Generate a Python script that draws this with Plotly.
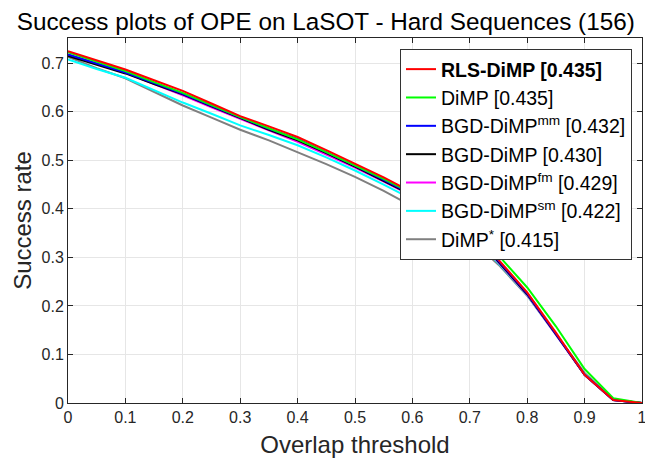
import plotly.graph_objects as go

thresholds = [round(i * 0.05, 2) for i in range(21)]

names = [
    "<b>RLS-DiMP [0.435]</b>",
    "DiMP [0.435]",
    "BGD-DiMP<sup>mm</sup> [0.432]",
    "BGD-DiMP [0.430]",
    "BGD-DiMP<sup>fm</sup> [0.429]",
    "BGD-DiMP<sup>sm</sup> [0.422]",
    "DiMP<sup>*</sup> [0.415]",
]
colors = ["#ff0000", "#00ff00", "#0000ff", "#000000", "#ff00ff", "#00ffff", "#808080"]

rls_dimp = [0.725, 0.706, 0.687, 0.665, 0.643, 0.617, 0.591, 0.570, 0.548, 0.521, 0.493,
            0.465, 0.434, 0.402, 0.362, 0.296, 0.228, 0.145, 0.058, 0.006, 0.0]
dimp = [0.723, 0.703, 0.684, 0.661, 0.639, 0.614, 0.589, 0.566, 0.543, 0.517, 0.490,
        0.462, 0.432, 0.401, 0.363, 0.304, 0.238, 0.158, 0.070, 0.010, 0.0]
bgd_mm = [0.718, 0.700, 0.681, 0.659, 0.637, 0.612, 0.588, 0.565, 0.544, 0.517, 0.489,
          0.460, 0.430, 0.398, 0.358, 0.293, 0.226, 0.143, 0.058, 0.006, 0.0]
bgd = [0.715, 0.697, 0.679, 0.657, 0.636, 0.611, 0.587, 0.563, 0.541, 0.515, 0.487,
       0.458, 0.428, 0.396, 0.356, 0.291, 0.224, 0.142, 0.058, 0.006, 0.0]
bgd_fm = [0.718, 0.699, 0.681, 0.657, 0.634, 0.609, 0.585, 0.561, 0.538, 0.512, 0.485,
          0.456, 0.426, 0.394, 0.354, 0.290, 0.223, 0.141, 0.058, 0.006, 0.0]
bgd_sm = [0.708, 0.688, 0.670, 0.644, 0.619, 0.596, 0.572, 0.552, 0.531, 0.506, 0.479,
          0.450, 0.420, 0.389, 0.350, 0.288, 0.222, 0.141, 0.059, 0.006, 0.0]
dimp_star = [0.713, 0.690, 0.669, 0.641, 0.613, 0.588, 0.563, 0.541, 0.517, 0.492, 0.466,
             0.437, 0.405, 0.375, 0.338, 0.285, 0.221, 0.142, 0.062, 0.007, 0.0]

series = [rls_dimp, dimp, bgd_mm, bgd, bgd_fm, bgd_sm, dimp_star]

x_ticks = [round(i * 0.1, 1) for i in range(11)]
x_ticktext = ["0", "0.1", "0.2", "0.3", "0.4", "0.5", "0.6", "0.7", "0.8", "0.9", "1"]
y_ticks = [round(i * 0.1, 1) for i in range(8)]
y_ticktext = ["0", "0.1", "0.2", "0.3", "0.4", "0.5", "0.6", "0.7"]

fig = go.Figure()
for name, col, vals in reversed(list(zip(names, colors, series))):
    fig.add_trace(go.Scatter(x=thresholds, y=vals, mode="lines", name=name,
                             line=dict(color=col, width=2)))

font = "Liberation Sans, Arial, sans-serif"
fig.update_layout(
    width=645, height=458,
    margin=dict(l=68, r=3, t=38, b=55, autoexpand=False),
    paper_bgcolor="white", plot_bgcolor="white",
    font=dict(family=font, color="#262626"),
    title=dict(text="Success plots of OPE on LaSOT - Hard Sequences (156)",
               x=0.505, xanchor="center", y=0.954, yanchor="middle",
               font=dict(size=24.3, color="#000000")),
    legend=dict(x=0.9826, xanchor="right", y=0.970, yanchor="top",
                traceorder="reversed", bgcolor="white",
                bordercolor="#333333", borderwidth=1,
                font=dict(size=19.5, color="#000000"), itemwidth=30),
    showlegend=True,
)
fig.update_xaxes(range=[0, 1], tickvals=x_ticks, ticktext=x_ticktext,
                 showline=True, linecolor="#262626", linewidth=1, mirror="ticks",
                 ticks="inside", ticklen=5, tickcolor="#262626",
                 showgrid=True, gridcolor="#e6e6e6", gridwidth=1, zeroline=False,
                 tickfont=dict(size=16), automargin=False, ticklabeloverflow="allow",
                 title=dict(text="Overlap threshold", font=dict(size=24), standoff=15))
fig.update_yaxes(range=[0, 0.752], tickvals=y_ticks, ticktext=y_ticktext,
                 showline=True, linecolor="#262626", linewidth=1, mirror="ticks",
                 ticks="inside", ticklen=5, tickcolor="#262626",
                 showgrid=True, gridcolor="#e6e6e6", gridwidth=1, zeroline=False,
                 tickfont=dict(size=16), automargin=False, ticklabeloverflow="allow",
                 title=dict(text="Success rate", font=dict(size=24), standoff=3))

fig.write_html("out.html", config={"displayModeBar": False},
               post_script="document.body.style.margin='0';document.body.style.overflow='hidden';")
